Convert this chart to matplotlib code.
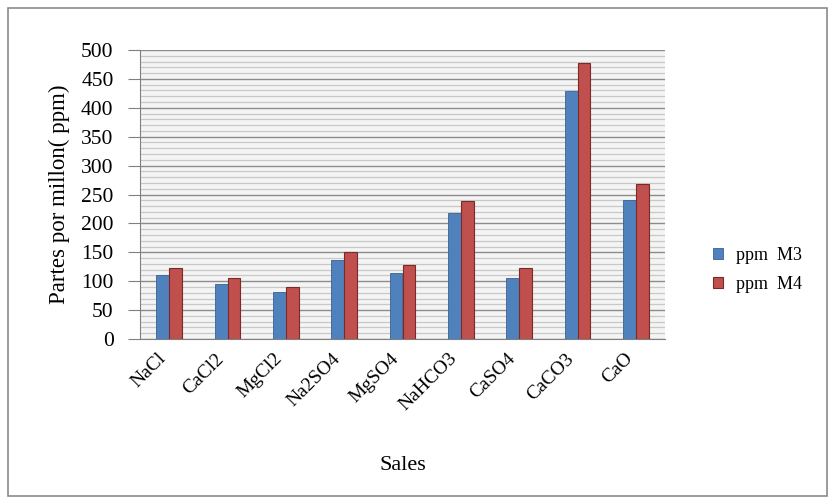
import matplotlib.pyplot as plt
import matplotlib.patches as patches
import matplotlib.transforms as mtransforms
import numpy as np

# salt names and ppm values for the two samples
sales = ["NaCl", "CaCl2", "MgCl2", "Na2SO4", "MgSO4", "NaHCO3", "CaSO4", "CaCO3", "CaO"]
ppm_m3 = [111, 96, 82, 137, 115, 218, 106, 429, 241]
ppm_m4 = [122, 106, 90, 151, 128, 239, 123, 478, 269]

plt.rcParams['font.family'] = ['Liberation Serif', 'DejaVu Serif']

fig = plt.figure(figsize=(8.35, 5.04), dpi=100)
ax = fig.add_axes([140 / 835, 1 - 339 / 504, 525 / 835, 289 / 504])

x = np.arange(len(sales))
w = 0.22
ax.bar(x - w / 2, ppm_m3, width=w, color='#4F81BD', edgecolor='#3a6190', linewidth=0.6,
       label="ppm  M3", zorder=3)
ax.bar(x + w / 2, ppm_m4, width=w, color='#C0504D', edgecolor='#7a2a28', linewidth=0.8,
       label="ppm  M4", zorder=3)

ax.set_xlim(-0.5, len(sales) - 0.5)
ax.set_ylim(0, 500)
ax.set_yticks(np.arange(0, 501, 50))
ax.set_yticks(np.arange(0, 501, 10), minor=True)
ax.tick_params(axis='y', which='minor', length=0)
ax.tick_params(axis='y', which='major', length=9, color='#808080', labelsize=15.5, pad=10)
ax.grid(axis='y', which='minor', color='#c8c8c8', linewidth=0.9, zorder=0)
ax.grid(axis='y', which='major', color='#8c8c8c', linewidth=1.0, zorder=0)
ax.set_facecolor('#f4f4f4')

ax.set_xticks(x)
ax.set_xticklabels(sales, rotation=45, ha='right', rotation_mode='anchor', fontsize=14)
ax.tick_params(axis='x', length=0, pad=8)
# labels sit a bit left of the bar groups in the original
shift = mtransforms.ScaledTranslation(-12 / 100, 0, fig.dpi_scale_trans)
for lbl in ax.get_xticklabels():
    lbl.set_transform(lbl.get_transform() + shift)

for s in ['top', 'right']:
    ax.spines[s].set_visible(False)
ax.spines['left'].set_color('#808080')
ax.spines['bottom'].set_color('#808080')

ax.set_ylabel("Partes por millon( ppm)", fontsize=16.5, labelpad=8)
ax.set_xlabel("Sales", fontsize=16, labelpad=30)

ax.legend(loc='center left', bbox_to_anchor=(697 / 835, 1 - 270 / 504),
          bbox_transform=fig.transFigure, frameon=False, fontsize=13,
          handlelength=0.55, handleheight=0.55, handletextpad=0.7, labelspacing=0.65)

# outer chart border
fig.patches.append(patches.Rectangle((8 / 835, 8 / 504), 819 / 835, 488 / 504,
                                     transform=fig.transFigure, fill=False,
                                     edgecolor='#8a8a8a', linewidth=1.2))

fig.savefig("out.png", dpi=100)
